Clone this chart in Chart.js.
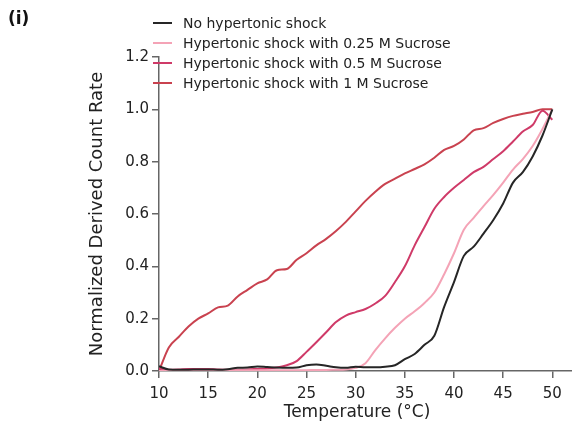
<!DOCTYPE html>
<html>
<head>
<meta charset="utf-8">
<script src="https://cdn.jsdelivr.net/npm/chart.js@4/dist/chart.umd.min.js"></script>
<style>
  html, body { margin: 0; padding: 0; background: #fff; }
  #wrap { width: 572px; height: 430px; position: relative; }
</style>
</head>
<body>
<div id="wrap"><canvas id="grafico"></canvas></div>
<script>
// temperatura (°C), un punto por grado
const temps = [10,11,12,13,14,15,16,17,18,19,20,21,22,23,24,25,26,27,28,29,30,
               31,32,33,34,35,36,37,38,39,40,41,42,43,44,45,46,47,48,49,50];

const noShock = [0.018,0.006,0.005,0.005,0.006,0.006,0.005,0.007,0.012,0.013,0.017,
                 0.015,0.013,0.012,0.013,0.022,0.025,0.020,0.014,0.012,0.016,
                 0.014,0.014,0.016,0.022,0.045,0.065,0.100,0.135,0.245,0.340,
                 0.440,0.475,0.525,0.577,0.640,0.720,0.760,0.820,0.900,1.000];

const sucrose025 = [0.000,0.002,0.002,0.003,0.003,0.003,0.003,0.003,0.003,0.003,0.003,
                    0.003,0.003,0.003,0.003,0.003,0.004,0.004,0.005,0.006,0.012,
                    0.030,0.080,0.125,0.165,0.200,0.228,0.260,0.300,0.370,0.450,
                    0.540,0.585,0.630,0.673,0.720,0.770,0.810,0.860,0.925,1.000];

const sucrose05 = [0.010,0.005,0.006,0.008,0.008,0.008,0.006,0.005,0.005,0.006,0.008,
                   0.010,0.013,0.022,0.038,0.073,0.110,0.148,0.187,0.212,0.225,
                   0.237,0.258,0.287,0.340,0.400,0.480,0.550,0.620,0.665,0.700,
                   0.730,0.760,0.780,0.810,0.840,0.877,0.915,0.940,0.995,0.960];

const sucrose1 = [0.000,0.090,0.130,0.170,0.200,0.220,0.243,0.250,0.285,0.310,0.335,
                  0.350,0.385,0.390,0.425,0.450,0.480,0.505,0.535,0.570,0.610,
                  0.650,0.685,0.715,0.735,0.755,0.772,0.790,0.815,0.845,0.860,
                  0.885,0.920,0.928,0.948,0.963,0.975,0.983,0.990,1.000,1.000];

const etiquetas = ['No hypertonic shock',
                   'Hypertonic shock with 0.25 M Sucrose',
                   'Hypertonic shock with 0.5 M Sucrose',
                   'Hypertonic shock with 1 M Sucrose'];
const colores = ['#262626', '#f4a3b6', '#cf3a68', '#c9424f'];
const yTicks = [0, 0.2, 0.4, 0.6, 0.8, 1.0, 1.2];
const tituloX = 'Temperature (°C)';

const fuente = 'DejaVu Sans';

function serie(vals) {
    return temps.map((t, i) => ({ x: t, y: vals[i] }));
}

// leyenda, "(i)" y titulo X dibujados a mano (la leyenda se superpone al grafico)
const leyendaPlugin = {
    id: 'leyendaManual',
    afterDraw(chart) {
        const ctx = chart.ctx;
        ctx.save();
        ctx.fillStyle = '#111';
        ctx.font = 'bold 17px ' + fuente;
        ctx.textBaseline = 'middle';
        ctx.fillText('(i)', 8, 20);
        ctx.font = '14px ' + fuente;
        chart.data.datasets.forEach((ds, i) => {
            const y = 23 + i * 20;
            ctx.strokeStyle = ds.borderColor;
            ctx.lineWidth = 2;
            ctx.beginPath();
            ctx.moveTo(153, y);
            ctx.lineTo(172, y);
            ctx.stroke();
            ctx.fillStyle = '#222';
            ctx.fillText(ds.label, 183, y + 1);
        });
        ctx.font = '17px ' + fuente;
        ctx.fillStyle = '#222';
        ctx.textAlign = 'center';
        ctx.fillText(tituloX, 357, 413);
        ctx.restore();
    }
};

const ctx = document.getElementById('grafico').getContext('2d');
const grafico = new Chart(ctx, {
    type: 'line',
    data: {
        datasets: [noShock, sucrose025, sucrose05, sucrose1].map((vals, i) => ({
            label: etiquetas[i],
            data: serie(vals),
            borderColor: colores[i],
            backgroundColor: colores[i],
            borderWidth: 2,
            pointRadius: 0,
            cubicInterpolationMode: 'monotone',
            fill: false
        }))
    },
    options: {
        responsive: true,
        maintainAspectRatio: false,
        animation: false,
        layout: { padding: { top: 57, right: 0, left: 0, bottom: 0 } },
        plugins: {
            legend: { display: false },
            tooltip: { enabled: false }
        },
        scales: {
            x: {
                type: 'linear',
                min: 10,
                max: 52,
                afterFit: (s) => { s.height = 59; },
                ticks: {
                    stepSize: 5,
                    includeBounds: false,
                    padding: 7,
                    color: '#222',
                    font: { family: fuente, size: 15 }
                },
                grid: { drawOnChartArea: false, drawTicks: true, tickLength: 7, color: '#666', lineWidth: 1.5 },
                border: { display: true, color: '#666', width: 1.5 },
                title: { display: false }
            },
            y: {
                min: 0,
                max: 1.2,
                afterFit: (s) => { s.width = 159; },
                afterBuildTicks: (s) => { s.ticks = yTicks.map(v => ({ value: v })); },
                ticks: {
                    padding: 3,
                    color: '#222',
                    font: { family: fuente, size: 15 },
                    callback: (v) => Number(v).toFixed(1)
                },
                grid: { drawOnChartArea: false, drawTicks: true, tickLength: 7, color: '#666', lineWidth: 1.5 },
                border: { display: true, color: '#666', width: 1.5 },
                title: {
                    display: true,
                    text: 'Normalized Derived Count Rate',
                    color: '#222',
                    font: { family: fuente, size: 18 },
                    padding: { top: 87, bottom: 0 }
                }
            }
        }
    },
    plugins: [leyendaPlugin]
});
</script>
</body>
</html>
